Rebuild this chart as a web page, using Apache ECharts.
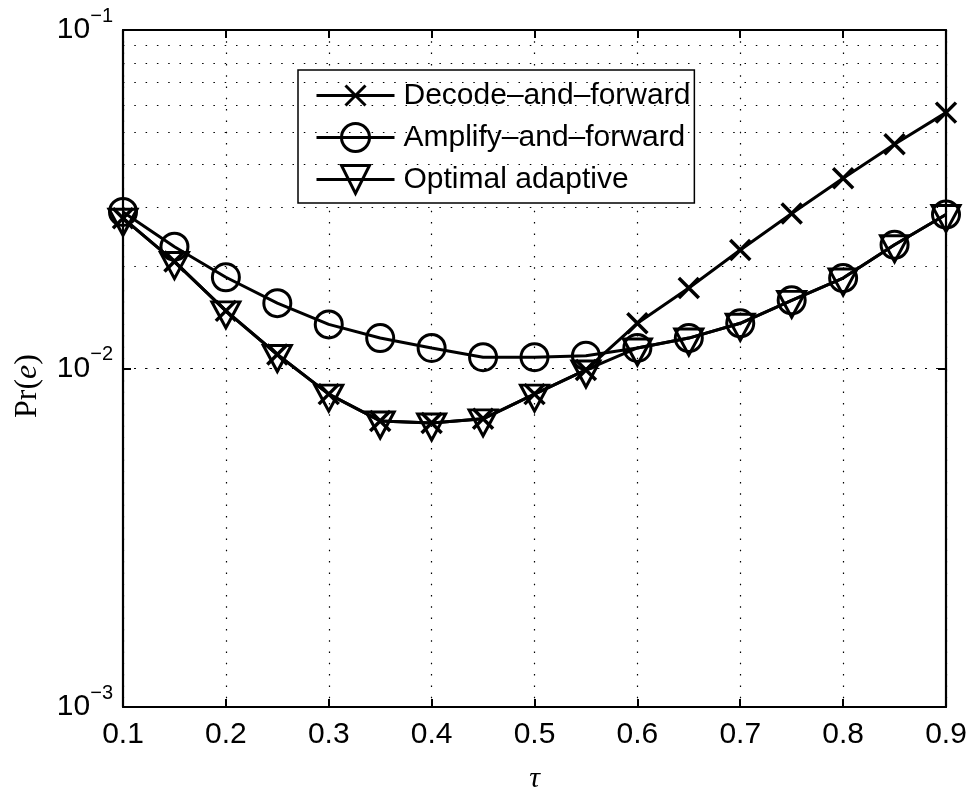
<!DOCTYPE html>
<html>
<head>
<meta charset="utf-8">
<script src="https://cdn.jsdelivr.net/npm/echarts@6/dist/echarts.min.js"></script>
<style>html,body{margin:0;padding:0;background:#fff}#c{width:971px;height:792px}</style>
</head>
<body>
<div id="c"></div>
<script>
const tauValues = [0.1,0.15,0.2,0.25,0.3,0.35,0.4,0.45,0.5,0.55,0.6,0.65,0.7,0.75,0.8,0.85,0.9];
const decodeForward = [0.0278,0.0207,0.0148,0.0110,0.0084,0.0070,0.0069,0.0071,0.0084,0.0099,0.0136,0.0173,0.0224,0.0287,0.0365,0.0460,0.0570];
const amplifyForward = [0.0290,0.0229,0.0186,0.0156,0.0135,0.0123,0.0115,0.0108,0.0108,0.0109,0.0115,0.0123,0.0136,0.0159,0.0185,0.0232,0.0285];
const optimalAdaptive = [0.0278,0.0207,0.0148,0.0110,0.0084,0.0070,0.0069,0.0071,0.0084,0.0099,0.0115,0.0123,0.0136,0.0159,0.0185,0.0232,0.0285];
const seriesNames = ['Decode\u2013and\u2013forward','Amplify\u2013and\u2013forward','Optimal adaptive'];
const xTickLabels = ['0.1','0.2','0.3','0.4','0.5','0.6','0.7','0.8','0.9'];
const yMinorGrid = [0.002,0.003,0.004,0.005,0.006,0.007,0.008,0.009,0.02,0.03,0.04,0.05,0.06,0.07,0.08,0.09];

const chart = echarts.init(document.getElementById('c'), null, {renderer: 'canvas'});
const sans = 'Liberation Sans, Arial, Helvetica, sans-serif';
const serif = 'Liberation Serif, Times New Roman, serif';
const dotted = {type: [1.5, 9.8], color: '#000', width: 1.2};
const toPairs = arr => tauValues.map((x, i) => [x, arr[i]]);
const crossPath = 'path://M-4,-4M0,0L20,20M20,0L0,20M24,24';
const triPath = 'path://M0,0L26,0L13,24Z';
const markStyle = {color: 'rgba(0,0,0,0)', borderColor: '#000', borderWidth: 3};
const crossStyle = {color: 'rgba(0,0,0,0)', borderColor: '#000', borderWidth: 3.5};
const lineSt = {color: '#000', width: 3};

function yFmt(v) {
  const e = Math.round(Math.log10(v));
  return '{b|10}{s|' + (e < 0 ? '\u2212' : '') + Math.abs(e) + '}';
}

const commonX = {
  type: 'value', min: 0.1, max: 0.9, interval: 0.1,
  axisLine: {show: true, onZero: false, lineStyle: {color: '#000', width: 2.2}},
  axisTick: {show: true, inside: true, length: 8, lineStyle: {color: '#000', width: 2}}
};
const commonY = {
  type: 'log', logBase: 10, min: 0.001, max: 0.1,
  axisLine: {show: true, onZero: false, lineStyle: {color: '#000', width: 2.2}},
  axisTick: {show: true, inside: true, length: 8, lineStyle: {color: '#000', width: 2}},
  minorTick: {show: false}
};

const option = {
  animation: false,
  backgroundColor: '#fff',
  grid: {left: 123, right: 25, top: 30, bottom: 85, containLabel: false, outerBoundsMode: 'none'},
  xAxis: [
    Object.assign({}, commonX, {
      position: 'bottom',
      name: '\u03C4', nameLocation: 'middle', nameGap: 57,
      nameTextStyle: {fontFamily: serif, fontStyle: 'italic', fontSize: 30, color: '#000'},
      axisLabel: {show: true, fontSize: 30, fontFamily: sans, color: '#000', margin: 13,
        formatter: v => { const i = Math.round((v - 0.1) / 0.1); return xTickLabels[i] !== undefined ? xTickLabels[i] : ''; }},
      splitLine: {show: true, lineStyle: dotted}
    }),
    Object.assign({}, commonX, {
      position: 'top', axisLabel: {show: false}, splitLine: {show: false}
    })
  ],
  yAxis: [
    Object.assign({}, commonY, {
      position: 'left',
      axisLabel: {show: true, margin: 10, formatter: yFmt, showMinLabel: true, showMaxLabel: true,
        rich: {
          b: {fontSize: 30, fontFamily: sans, color: '#000', lineHeight: 32},
          s: {fontSize: 20, fontFamily: sans, color: '#000', lineHeight: 22, padding: [0, 0, 28, 0]}
        }},
      splitLine: {show: true, lineStyle: dotted}
    }),
    Object.assign({}, commonY, {
      position: 'right', axisLabel: {show: false}, splitLine: {show: false}
    })
  ],
  legend: {
    orient: 'vertical', left: 298, top: 70,
    itemWidth: 78, itemHeight: 35, itemGap: 11,
    padding: [10, 4, 8, 17],
    borderColor: '#000', borderWidth: 1.5, backgroundColor: '#fff',
    textStyle: {fontSize: 30, fontFamily: sans, color: '#000', padding: [0, 0, 0, 4]},
    lineStyle: {width: 3, color: '#000'},
    itemStyle: {borderWidth: 3, borderColor: '#000'},
    data: seriesNames,
    selectedMode: false
  },
  graphic: [{
    type: 'text', x: 28, y: 386, rotation: Math.PI / 2,
    style: {
      text: '{r|Pr(}{i|e}{r|)}', align: 'center', verticalAlign: 'middle',
      rich: {
        r: {fontFamily: serif, fontSize: 32, fill: '#000'},
        i: {fontFamily: serif, fontSize: 32, fontStyle: 'italic', fill: '#000'}
      }
    }
  }],
  series: [
    {
      name: seriesNames[0], type: 'line', xAxisIndex: 0, yAxisIndex: 0,
      data: toPairs(decodeForward),
      symbol: crossPath, symbolSize: 28,
      itemStyle: crossStyle, lineStyle: lineSt,
      markLine: {
        silent: true, symbol: ['none', 'none'], label: {show: false},
        lineStyle: dotted, emphasis: {disabled: true},
        data: yMinorGrid.map(v => ({yAxis: v}))
      },
      z: 2
    },
    {
      name: seriesNames[1], type: 'line', xAxisIndex: 0, yAxisIndex: 0,
      data: toPairs(amplifyForward),
      symbol: 'circle', symbolSize: 27,
      itemStyle: markStyle, lineStyle: lineSt, z: 3
    },
    {
      name: seriesNames[2], type: 'line', xAxisIndex: 0, yAxisIndex: 0,
      data: toPairs(optimalAdaptive),
      symbol: triPath, symbolSize: [28, 26], symbolOffset: [0, 4],
      itemStyle: markStyle, lineStyle: lineSt, z: 4
    }
  ]
};
chart.setOption(option);
</script>
</body>
</html>
